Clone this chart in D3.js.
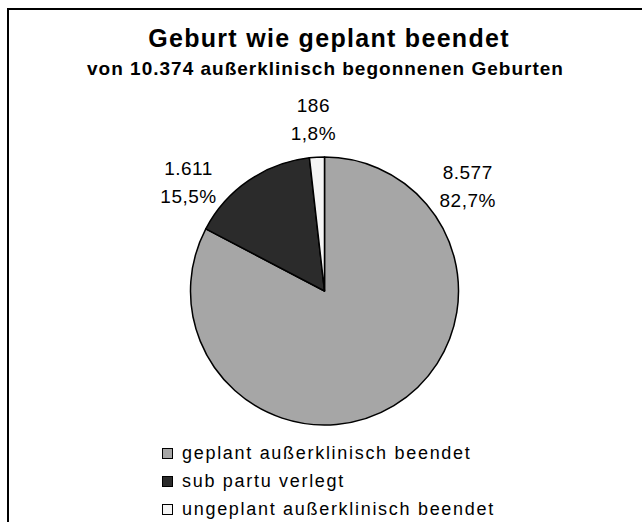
<!DOCTYPE html>
<html>
<head>
<meta charset="utf-8">
<script src="https://cdn.jsdelivr.net/npm/d3@7"></script>
<style>
  body { margin: 0; background: #fff; }
  text { font-family: "Liberation Sans", Arial, sans-serif; fill: #000; }
</style>
</head>
<body>
<div id="chart"></div>
<script>
// data
const categories = ["geplant außerklinisch beendet", "sub partu verlegt", "ungeplant außerklinisch beendet"];
const counts = [8577, 1611, 186];
const percents = [82.7, 15.5, 1.8];
const colors = ["#a6a6a6", "#2b2b2b", "#f5f5f5"];

const titleText = "Geburt wie geplant beendet";
const subtitleText = "von 10.374 außerklinisch begonnenen Geburten";

// where excel put the labels (angle from 12 o'clock, degrees)
const labelAngles = [54, 308.6, 356.3];
const labelRadius = [177, 174, 172];

const width = 642, height = 522;
const cx = 324.5, cy = 291, radius = 134;

const fmtInt = n => d3.format(",")(n).replace(/,/g, ".");
const fmtPct = p => p.toFixed(1).replace(".", ",") + "%";

const svg = d3.select("#chart")
  .append("svg")
  .attr("width", width)
  .attr("height", height);

// frame (runs off the right and bottom like the original)
svg.append("rect")
  .attr("x", 8)
  .attr("y", 9)
  .attr("width", 700)
  .attr("height", 600)
  .attr("fill", "none")
  .attr("stroke", "#000")
  .attr("stroke-width", 2);

svg.append("text")
  .attr("x", 329)
  .attr("y", 47)
  .attr("text-anchor", "middle")
  .style("font-size", "25px")
  .style("font-weight", "bold")
  .style("letter-spacing", "1.3px")
  .text(titleText);

svg.append("text")
  .attr("x", 325.5)
  .attr("y", 75)
  .attr("text-anchor", "middle")
  .style("font-size", "19px")
  .style("font-weight", "bold")
  .style("letter-spacing", "1px")
  .text(subtitleText);

const g = svg.append("g")
  .attr("transform", "translate(" + cx + "," + cy + ")");

const pie = d3.pie().sort(null).value(d => d);
const arcs = pie(counts);

const arc = d3.arc().innerRadius(0).outerRadius(radius);

g.selectAll("path")
  .data(arcs)
  .enter()
  .append("path")
  .attr("d", arc)
  .attr("fill", (d, i) => colors[i])
  .attr("stroke", "#000")
  .attr("stroke-width", 1.5)
  .attr("stroke-linejoin", "round");

// labels
const labels = g.selectAll("text.lbl")
  .data(arcs)
  .enter()
  .append("text")
  .attr("class", "lbl")
  .attr("text-anchor", "middle")
  .style("font-size", "19px")
  .style("letter-spacing", "0.5px")
  .attr("transform", (d, i) => {
    const a = labelAngles[i] * Math.PI / 180;
    const r = labelRadius[i];
    return "translate(" + (Math.sin(a) * r) + "," + (-Math.cos(a) * r) + ")";
  });

labels.append("tspan")
  .attr("x", 0)
  .attr("y", -7.5)
  .text((d, i) => fmtInt(counts[i]));
labels.append("tspan")
  .attr("x", 0)
  .attr("y", 20.5)
  .text((d, i) => fmtPct(percents[i]));

// legend
const legend = svg.append("g")
  .attr("transform", "translate(162,448)");

const rows = legend.selectAll("g")
  .data(categories)
  .enter()
  .append("g")
  .attr("transform", (d, i) => "translate(0," + (i * 28) + ")");

rows.append("rect")
  .attr("x", 0.5)
  .attr("y", 0.5)
  .attr("width", 10)
  .attr("height", 10)
  .attr("fill", (d, i) => colors[i])
  .attr("stroke", "#000")
  .attr("stroke-width", 1);

rows.append("text")
  .attr("x", 20)
  .attr("y", 11)
  .style("font-size", "18px")
  .style("letter-spacing", "1.7px")
  .text(d => d);
</script>
</body>
</html>
